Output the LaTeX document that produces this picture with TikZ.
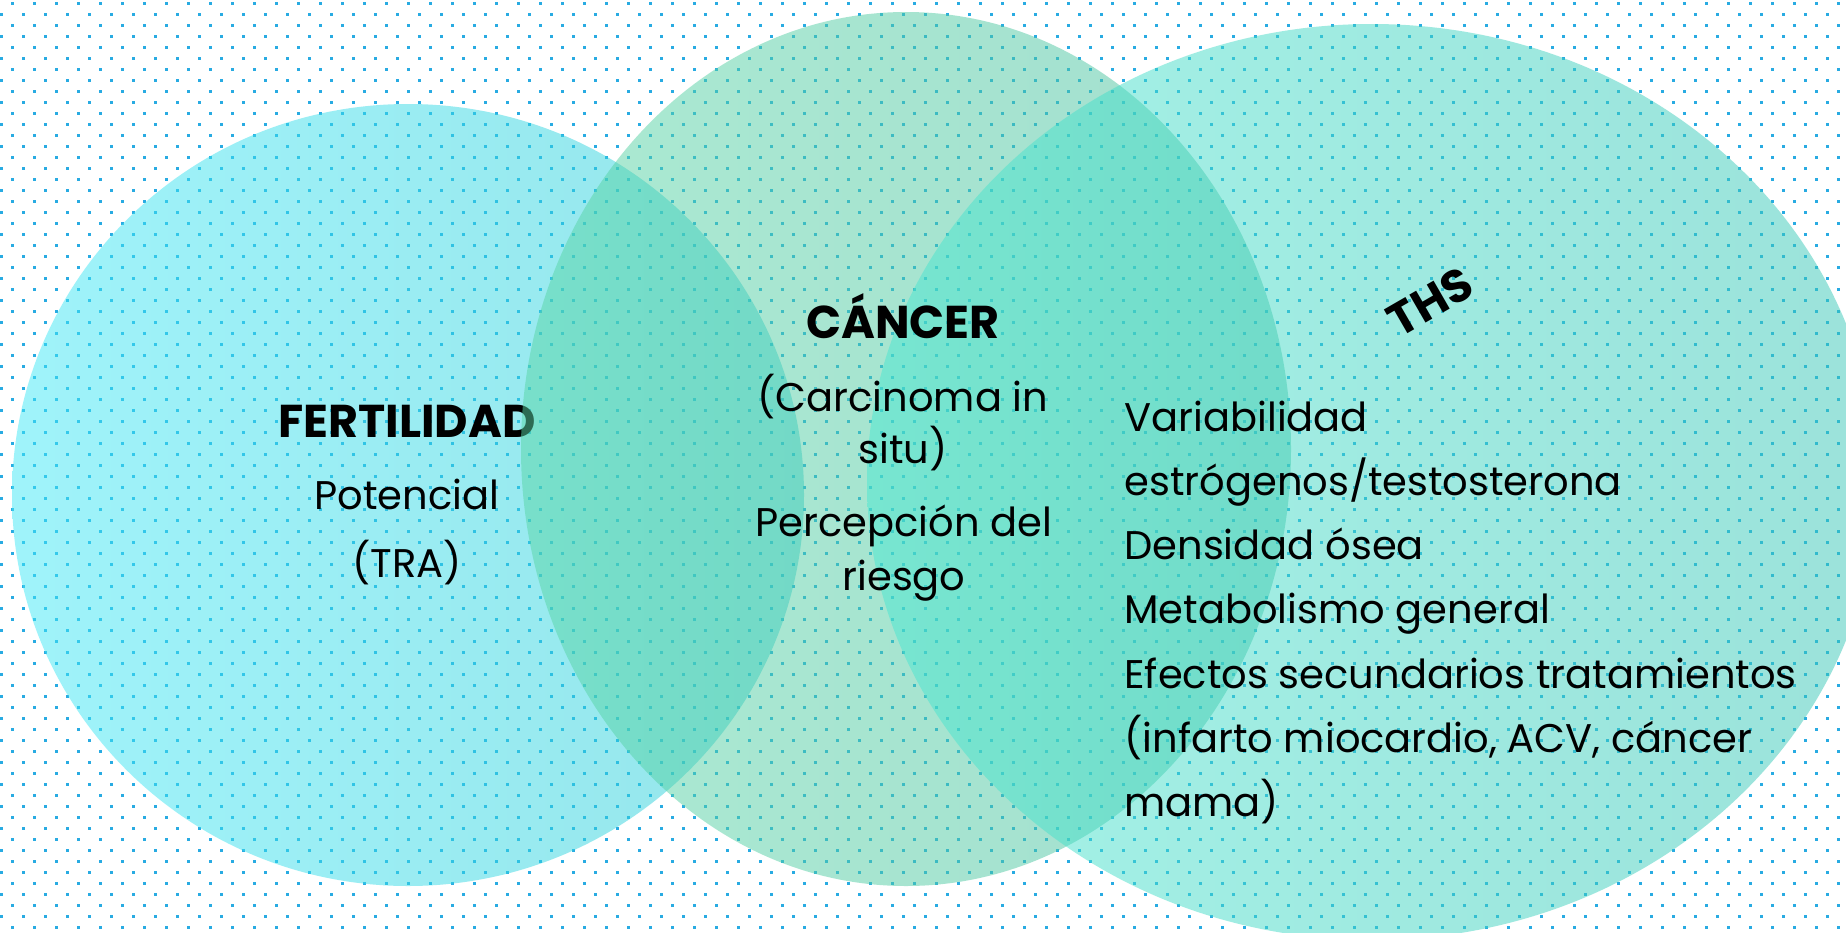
\documentclass[tikz,border=0pt]{standalone}
\usepackage{fontspec}
\setmainfont{Poppins}
\usetikzlibrary{positioning}
\definecolor{dotblue}{RGB}{41,171,226}
\definecolor{fertL}{RGB}{65,233,247}
\definecolor{fertR}{RGB}{45,205,215}
\definecolor{cancL}{RGB}{88,214,166}
\definecolor{cancR}{RGB}{72,192,160}
\definecolor{thsL}{RGB}{73,231,209}
\definecolor{thsR}{RGB}{57,199,183}
\tikzset{
  blob/.style={fill opacity=.5, draw=none},
  head/.style={font=\bfseries\fontsize{23}{28}\selectfont, inner sep=0pt, anchor=base},
  body/.style={font=\fontsize{20}{26}\selectfont, inner sep=0pt, anchor=base},
  bodyleft/.style={body, anchor=base west},
}
\begin{document}
\begin{tikzpicture}[x=0.5pt,y=-0.5pt]
  \useasboundingbox (0,0) rectangle (1846,932);
  \fill[white] (0,0) rectangle (1846,932);
  \begin{scope}
    \clip (0,0) rectangle (1846,932);
    % dotted paper
    \foreach \r in {0,...,84}{
      \pgfmathsetmacro{\ry}{3.3+11*\r}
      \pgfmathsetmacro{\rx}{-11-11*mod(\r,2)}
      \draw[dotblue, line width=1.25pt, dash pattern=on 1.25pt off 9.75pt] (\rx,\ry) -- (1870,\ry);
    }
    % fertilidad
    \shade[blob, left color=fertL, right color=fertR] (408,495) ellipse [x radius=396, y radius=391];
    \node[head] (fert) at (407,437) {FERTILIDAD};
    \node[body] (potencial) at (407,509) {Potencial};
    \node[body] (tra) at (407,577) {(TRA)};
    % cancer
    \shade[blob, left color=cancL, right color=cancR] (906,449) ellipse [x radius=385, y radius=437];
    % ths
    \shade[blob, left color=thsL, right color=thsR] (1372,482) ellipse [x radius=505, y radius=458];
    \node[head] (canc) at (903,338) {CÁNCER};
    \node[body] (carcinoma) at (903,411) {(Carcinoma in};
    \node[body] (situ) at (903,463) {situ)};
    \node[body] (percepcion) at (904,536) {Percepción del};
    \node[body] (riesgo) at (904,590) {riesgo};
    \node[head, anchor=center, rotate=30] (ths) at (1430,302) {THS};
    \node[bodyleft] (var) at (1124,431) {Variabilidad};
    \node[bodyleft] (estr) at (1124,495) {estrógenos/testosterona};
    \node[bodyleft] (dens) at (1124,559) {Densidad ósea};
    \node[bodyleft] (metab) at (1124,623) {Metabolismo general};
    \node[bodyleft] (efect) at (1124,688) {Efectos secundarios tratamientos};
    \node[bodyleft] (infarto) at (1124,752) {(infarto miocardio, ACV, cáncer};
    \node[bodyleft] (mama) at (1124,816) {mama)};
  \end{scope}
\end{tikzpicture}
\end{document}
